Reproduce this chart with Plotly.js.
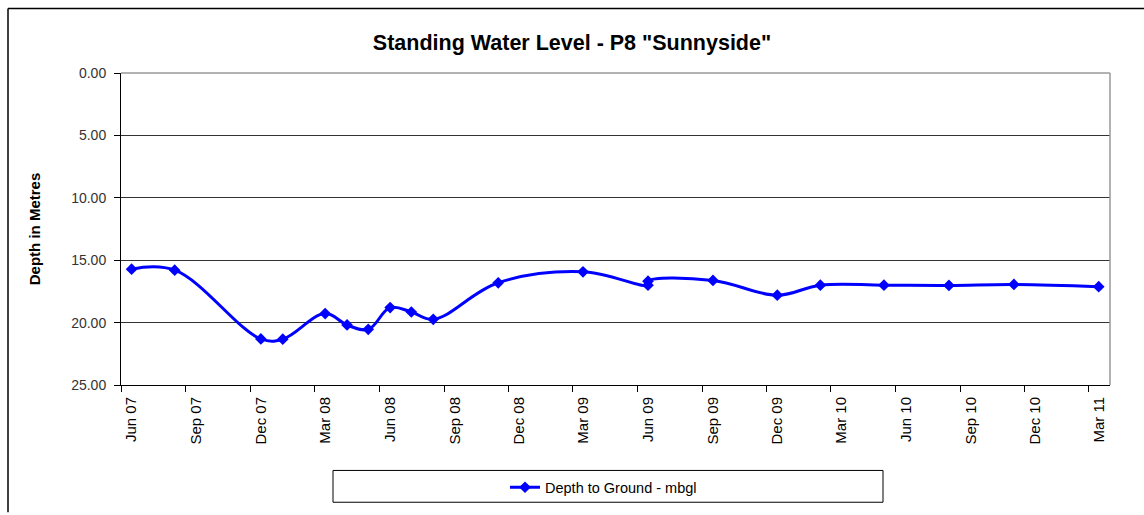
<!DOCTYPE html>
<html>
<head>
<meta charset="utf-8">
<script src="https://cdn.plot.ly/plotly-3.0.1.min.js"></script>
<style>
html,body{margin:0;padding:0;background:#fff;}
#chart{width:1144px;height:515px;}
</style>
</head>
<body>
<div id="chart"></div>
<script>
// Reading dates (plotted at mid-month, as the original monthly date axis does)
const readingDates = [
  "2007-06-16","2007-08-16","2007-12-16","2008-01-16","2008-03-16","2008-04-16",
  "2008-05-16","2008-06-16","2008-07-16","2008-08-16","2008-11-16","2009-03-16",
  "2009-06-16","2009-06-16","2009-09-16","2009-12-16","2010-02-15","2010-05-16",
  "2010-08-16","2010-11-16","2011-03-16"
];
// Depth to ground (metres below ground level)
const depthMbgl = [
  15.72,15.80,21.31,21.33,19.28,20.19,
  20.54,18.80,19.15,19.74,16.81,15.93,
  17.00,16.68,16.62,17.80,17.00,17.00,
  17.02,16.94,17.12
];
const seriesName = "Depth to Ground - mbgl";

// quarter boundaries (tick marks) and the month each label belongs to
const tickDates = [
  "2007-06-01","2007-09-01","2007-12-01","2008-03-01","2008-06-01","2008-09-01",
  "2008-12-01","2009-03-01","2009-06-01","2009-09-01","2009-12-01","2010-03-01",
  "2010-06-01","2010-09-01","2010-12-01","2011-03-01"
];
const labelDates = [
  "2007-06-16","2007-09-16","2007-12-16","2008-03-16","2008-06-16","2008-09-16",
  "2008-12-16","2009-03-16","2009-06-16","2009-09-16","2009-12-16","2010-03-16",
  "2010-06-16","2010-09-16","2010-12-16","2011-03-16"
];
const tickLabels = [
  "Jun 07","Sep 07","Dec 07","Mar 08","Jun 08","Sep 08",
  "Dec 08","Mar 09","Jun 09","Sep 09","Dec 09","Mar 10",
  "Jun 10","Sep 10","Dec 10","Mar 11"
];
const depthTicks = [0,5,10,15,20,25];

const FONT = "Arial, 'Liberation Sans', sans-serif";

const trace = {
  x: readingDates,
  y: depthMbgl,
  name: seriesName,
  type: "scatter",
  mode: "lines+markers",
  line: {color: "#0000FF", width: 3, shape: "spline", smoothing: 1.1},
  marker: {symbol: "diamond", size: 9, color: "#0000FF"},
  showlegend: true
};

// plot-area pixel geometry helpers for decorative frame shapes
const L = 121, R = 1110, T = 73, B = 387;
const W = R - L, H = B - T;
const px = x => (x - L) / W;
const py = y => (B - y) / H;

const layout = {
  width: 1144, height: 515,
  margin: {l: L, r: 1144 - R, t: T, b: 515 - B},
  paper_bgcolor: "#fff", plot_bgcolor: "#fff",
  font: {family: FONT, color: "#000"},
  title: {
    text: "<b>Standing Water Level - P8 \"Sunnyside\"</b>",
    font: {family: FONT, size: 21.5, color: "#000"},
    x: 0.5, xref: "container", xanchor: "center",
    y: 1 - 42/515, yref: "container", yanchor: "middle"
  },
  xaxis: {
    type: "date",
    range: ["2007-06-01", "2011-04-01"],
    tickmode: "array", tickvals: labelDates, ticktext: tickLabels,
    tickangle: -90,
    ticks: "",
    ticklabelstandoff: 5,
    minor: {tickmode: "array", tickvals: tickDates, ticks: "outside", ticklen: 6, tickcolor: "#000", tickwidth: 1, showgrid: false},
    showgrid: false, zeroline: false,
    showline: true, linecolor: "#000", linewidth: 1,
    tickfont: {family: FONT, size: 15, color: "#000"},
    fixedrange: true
  },
  yaxis: {
    range: [25, 0],
    tickmode: "array", tickvals: depthTicks,
    tickformat: ".2f",
    ticks: "outside", ticklen: 6, tickcolor: "#000", tickwidth: 1,
    ticklabelstandoff: 5,
    showgrid: true, gridcolor: "#333", gridwidth: 1,
    zeroline: false,
    showline: true, linecolor: "#000", linewidth: 1,
    tickfont: {family: FONT, size: 14, color: "#333"},
    title: {text: "<b>Depth in Metres</b>", font: {family: FONT, size: 15, color: "#000"}, standoff: 26},
    fixedrange: true
  },
  showlegend: true,
  legend: {
    orientation: "h",
    x: px(505), xanchor: "left",
    y: py(490), yanchor: "middle",
    bgcolor: "rgba(0,0,0,0)",
    font: {family: FONT, size: 14.5, color: "#000"},
    itemwidth: 30
  },
  shapes: [
    // grey plot-area frame on top and right
    {type: "line", xref: "paper", yref: "paper", x0: 0, x1: 1, y0: 1, y1: 1, line: {color: "#999", width: 1.5}, layer: "above"},
    {type: "line", xref: "paper", yref: "paper", x0: 1, x1: 1, y0: 0, y1: 1, line: {color: "#999", width: 1.5}, layer: "above"},
    // legend box
    {type: "rect", xref: "paper", yref: "paper", x0: px(333), x1: px(883), y0: py(505), y1: py(473), line: {color: "#000", width: 1}, fillcolor: "rgba(0,0,0,0)"},
    // outer chart border (top and left edges visible in the frame)
    {type: "line", xref: "paper", yref: "paper", x0: px(8), x1: px(1144), y0: py(8), y1: py(8), line: {color: "#000", width: 1.5}},
    {type: "line", xref: "paper", yref: "paper", x0: px(8), x1: px(8), y0: py(8), y1: py(515), line: {color: "#000", width: 1.5}}
  ]
};

Plotly.newPlot("chart", [trace], layout, {displayModeBar: false, staticPlot: true});
</script>
</body>
</html>
